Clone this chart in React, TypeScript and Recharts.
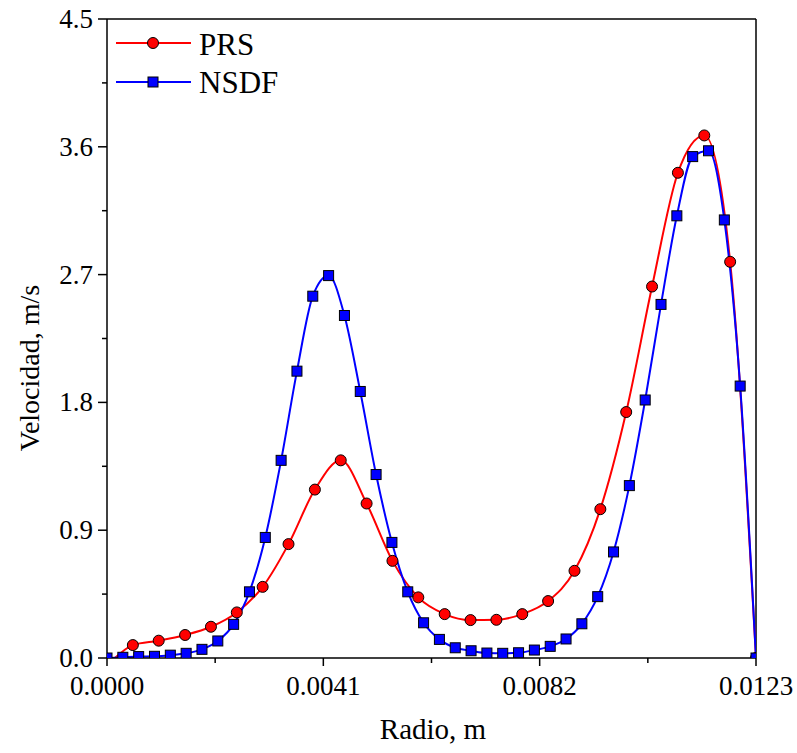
import React from "react";
import { LineChart, Line, XAxis, YAxis, ReferenceLine, Legend } from "recharts";

// ---- data ----
const nsdfX = [
  0, 0.0003, 0.0006, 0.0009, 0.0012, 0.0015, 0.0018, 0.0021, 0.0024, 0.0027,
  0.003, 0.0033, 0.0036, 0.0039, 0.0042, 0.0045, 0.0048, 0.0051, 0.0054, 0.0057,
  0.006, 0.0063, 0.0066, 0.0069, 0.0072, 0.0075, 0.0078, 0.0081, 0.0084, 0.0087,
  0.009, 0.0093, 0.0096, 0.0099, 0.0102, 0.0105, 0.0108, 0.0111, 0.0114, 0.0117,
  0.012, 0.0123,
];
const nsdfY = [
  0.0, 0.005, 0.01, 0.012, 0.02, 0.033, 0.061, 0.12, 0.237, 0.466,
  0.849, 1.392, 2.02, 2.548, 2.693, 2.412, 1.877, 1.292, 0.814, 0.466,
  0.248, 0.131, 0.072, 0.051, 0.035, 0.033, 0.037, 0.056, 0.082, 0.134,
  0.241, 0.432, 0.747, 1.214, 1.817, 2.49, 3.114, 3.531, 3.572, 3.085,
  1.915, 0.0,
];
const prsX = [
  0.00015, 0.00049, 0.00098, 0.00148, 0.00197, 0.00246, 0.00295, 0.00344, 0.00394, 0.00443,
  0.00492, 0.00541, 0.0059, 0.0064, 0.00689, 0.00738, 0.00787, 0.00836, 0.00886, 0.00935,
  0.00984, 0.01033, 0.01082, 0.01132, 0.01181, 0.0123,
];
const prsY = [
  0, 0.091, 0.122, 0.162, 0.22, 0.321, 0.501, 0.802, 1.186, 1.392,
  1.088, 0.684, 0.427, 0.309, 0.267, 0.269, 0.309, 0.401, 0.614, 1.048,
  1.732, 2.616, 3.417, 3.68, 2.79, 0,
];
const xTicks = [0, 0.00205, 0.0041, 0.00615, 0.0082, 0.01025, 0.0123];
const xMajorTicks = [0, 0.0041, 0.0082, 0.0123];
const yTicks = [0, 0.45, 0.9, 1.35, 1.8, 2.25, 2.7, 3.15, 3.6, 4.05, 4.5];
const yMajorTicks = [0, 0.9, 1.8, 2.7, 3.6, 4.5];
const seriesNames = ["PRS", "NSDF"];
const axisTitles = { x: "Radio, m", y: "Velocidad, m/s" };

const prsData = prsX.map((x, i) => ({ x, y: prsY[i] }));
const nsdfData = nsdfX.map((x, i) => ({ x, y: nsdfY[i] }));

const FONT = "Liberation Serif";
const RED = "#FF0000";
const BLUE = "#0000FF";

const isIn = (arr: number[], v: number) => arr.some((a) => Math.abs(a - v) < 1e-9);

const XTick = (props: any) => {
  const { x, y, payload } = props;
  const major = isIn(xMajorTicks, payload.value);
  return (
    <g>
      <line x1={x} x2={x} y1={y} y2={y + (major ? 8 : 5)} stroke="#000" strokeWidth={1.5} />
      {major && (
        <text x={x} y={y + 37} textAnchor="middle" fontFamily={FONT} fontSize={27} fill="#000">
          {payload.value.toFixed(4)}
        </text>
      )}
    </g>
  );
};

const YTick = (props: any) => {
  const { x, y, payload } = props;
  const major = isIn(yMajorTicks, payload.value);
  return (
    <g>
      <line x1={x - (major ? 9 : 5)} x2={x} y1={y} y2={y} stroke="#000" strokeWidth={1.5} />
      {major && (
        <text x={x - 14} y={y + 9} textAnchor="end" fontFamily={FONT} fontSize={27} fill="#000">
          {payload.value.toFixed(1)}
        </text>
      )}
    </g>
  );
};

const CircleDot = (props: any) => {
  const { cx, cy, index } = props;
  if (index === 0 || cx == null || cy == null) return <g key={`c${index}`} />;
  return <circle key={`c${index}`} cx={cx} cy={cy} r={5.5} fill={RED} stroke="#000" strokeWidth={1} />;
};

const SquareDot = (props: any) => {
  const { cx, cy, index } = props;
  if (cx == null || cy == null) return <g key={`s${index}`} />;
  return (
    <rect key={`s${index}`} x={cx - 5} y={cy - 5} width={10} height={10} fill={BLUE} stroke="#000" strokeWidth={1} />
  );
};

const LegendContent = () => (
  <svg width={300} height={110} style={{ display: "block" }}>
    <line x1={116} x2={191} y1={43} y2={43} stroke={RED} strokeWidth={2} />
    <circle cx={153} cy={43} r={5.5} fill={RED} stroke="#000" strokeWidth={1} />
    <text x={199} y={55} fontFamily={FONT} fontSize={31} fill="#000">{seriesNames[0]}</text>
    <line x1={116} x2={191} y1={82} y2={82} stroke={BLUE} strokeWidth={2} />
    <rect x={148} y={77} width={10} height={10} fill={BLUE} stroke="#000" strokeWidth={1} />
    <text x={199} y={93} fontFamily={FONT} fontSize={31} fill="#000">{seriesNames[1]}</text>
  </svg>
);

const YTitle = () => (
  <text x={39} y={368} transform="rotate(-90, 39, 368)" textAnchor="middle" fontFamily={FONT} fontSize={28} fill="#000">
    {axisTitles.y}
  </text>
);

const XTitle = () => (
  <text x={433} y={739} textAnchor="middle" fontFamily={FONT} fontSize={29} fill="#000">
    {axisTitles.x}
  </text>
);

export default function App() {
  return (
    <div
      style={{
        position: "absolute",
        left: 0,
        top: 0,
        width: 797,
        height: 753,
        background: "#fff",
        fontFamily: FONT,
      }}
    >
      <LineChart
        width={797}
        height={753}
        margin={{ top: 19, right: 41, bottom: 0, left: 0 }}
        style={{ fontFamily: FONT }}
      >
        <XAxis
          type="number"
          dataKey="x"
          domain={[0, 0.0123]}
          ticks={xTicks}
          interval={0}
          allowDataOverflow
          height={95}
          tickSize={0}
          tickMargin={0}
          tickLine={false}
          tick={<XTick />}
          axisLine={{ stroke: "#000", strokeWidth: 1.5 }}
          label={{ content: () => <XTitle /> }}
        />
        <YAxis
          type="number"
          domain={[0, 4.5]}
          ticks={yTicks}
          interval={0}
          allowDataOverflow
          width={107}
          tickSize={0}
          tickMargin={0}
          tickLine={false}
          tick={<YTick />}
          axisLine={{ stroke: "#000", strokeWidth: 1.5 }}
          label={{ content: () => <YTitle /> }}
        />
        <ReferenceLine y={4.5} stroke="#000" strokeWidth={1.5} />
        <ReferenceLine x={0.0123} stroke="#000" strokeWidth={1.5} />
        <Line
          data={prsData}
          dataKey="y"
          name={seriesNames[0]}
          type="monotone"
          stroke={RED}
          strokeWidth={2}
          dot={<CircleDot />}
          activeDot={false}
          isAnimationActive={false}
        />
        <Line
          data={nsdfData}
          dataKey="y"
          name={seriesNames[1]}
          type="monotone"
          stroke={BLUE}
          strokeWidth={2}
          dot={<SquareDot />}
          activeDot={false}
          isAnimationActive={false}
        />
        <Legend
          layout="horizontal"
          verticalAlign="middle"
          align="center"
          wrapperStyle={{ left: 0, top: 0, width: 300, height: 110 }}
          content={() => <LegendContent />}
        />
      </LineChart>
    </div>
  );
}
